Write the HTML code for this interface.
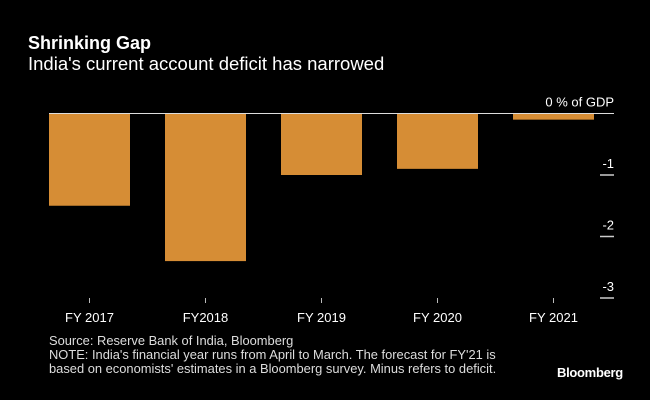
<!DOCTYPE html>
<html><head><meta charset="utf-8"><style>
body{margin:0;background:#000;width:650px;height:400px;overflow:hidden;font-family:"Liberation Sans",sans-serif;color:#fff;position:relative}
.t{position:absolute;white-space:nowrap}
</style></head><body>
<div class="t" style="left:28px;top:33px;font-size:18px;font-weight:bold">Shrinking Gap</div>
<div class="t" style="left:28px;top:53px;font-size:18.5px">India's current account deficit has narrowed</div>
<svg id="c" width="650" height="400" style="position:absolute;left:0;top:0"></svg>
<div class="t" style="left:49px;top:334px;font-size:12.9px;line-height:14px;color:#ddd">Source: Reserve Bank of India, Bloomberg<br>NOTE: India's financial year runs from April to March. The forecast for FY'21 is<br>based on economists' estimates in a Bloomberg survey. Minus refers to deficit.</div>
<div class="t" style="left:557px;top:365px;font-size:13px;font-weight:bold;letter-spacing:-0.3px">Bloomberg</div>
<script>
const categories=["FY 2017","FY2018","FY 2019","FY 2020","FY 2021"];
const values=[-1.5,-2.4,-1.0,-0.9,-0.1];
const ticks=[0,-1,-2,-3];
const tickLabels=["0 % of GDP","-1","-2","-3"];
const svg=document.getElementById('c');
const NS="http://www.w3.org/2000/svg";
const y0=113.5,ppu=61.5;
const y=v=>y0-v*ppu;
const x=i=>49+i*116;
const bw=81;
function mk(t,a){const e=document.createElementNS(NS,t);for(const k in a)e.setAttribute(k,a[k]);svg.appendChild(e);return e;}
values.forEach((v,i)=>{
 const r=mk('rect',{x:x(i),y:Math.min(y(0),y(v)),width:bw,height:Math.abs(y(v)-y(0)),fill:'#d68d35'});
 
 
 const cx=x(i)+bw/2;
 const tk=mk('line',{x1:cx,x2:cx,y1:298,y2:303,stroke:'#bbb','stroke-width':1});
 
 
 const tx=mk('text',{x:cx,y:322,'text-anchor':'middle',fill:'#fff','font-size':13,'font-family':'Liberation Sans, sans-serif'});
 tx.textContent=categories[i];
 
 
});
const zl=mk('line',{x1:49,x2:614,y1:y0,y2:y0,stroke:'#ddd','stroke-width':1});


ticks.forEach((t,i)=>{
 if(t!==0){const l=mk('line',{x1:600,x2:614,y1:y(t),y2:y(t),stroke:'#ccc','stroke-width':1.5});
 
 }
 const tx=mk('text',{x:614,y:y(t)-7,'text-anchor':'end',fill:'#fff','font-size':13,'font-family':'Liberation Sans, sans-serif'});
 tx.textContent=tickLabels[i];
 
 
});
</script>
</body></html>
